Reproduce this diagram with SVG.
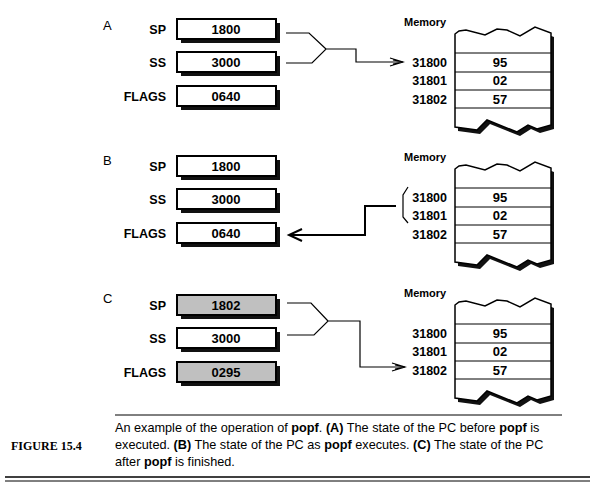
<svg xmlns="http://www.w3.org/2000/svg" width="597" height="495" viewBox="0 0 597 495">
<style>
.lbl{font-family:"Liberation Sans",Arial,sans-serif;font-weight:bold;font-size:12.5px;fill:#000}
.val{font-family:"Liberation Sans",Arial,sans-serif;font-weight:bold;font-size:13px;fill:#000}
.panel{font-family:"Liberation Sans",Arial,sans-serif;font-size:13px;fill:#000}
.mem{font-family:"Liberation Sans",Arial,sans-serif;font-weight:bold;font-size:11px;fill:#000}
.cap{font-family:"Liberation Sans",Arial,sans-serif;font-size:12.7px;fill:#000}
.fig{font-family:"Liberation Serif","Times New Roman",serif;font-weight:bold;font-size:12px;fill:#000}
.box{fill:#fff;stroke:#000;stroke-width:2}
.gbox{fill:#c0c0c0;stroke:#000;stroke-width:2}
.shadow{fill:#111}
.conn{fill:none;stroke:#000;stroke-width:1.2}
.connb{fill:none;stroke:#000;stroke-width:2}
.cell{stroke:#000;stroke-width:1}
</style>
<defs>
<path id="memshape" d="M455,34 L459,31 L466,30 L485,35 L497,29 L507,30 L520,36 L535,27 L551,33 L551,125 L537,129 L528,125 L517,132 L487,120 L477,130 L455,127 Z"/>
<marker id="dblarrow" markerWidth="16" markerHeight="12" refX="14" refY="6" orient="auto" markerUnits="userSpaceOnUse">
<path d="M1,2 L14,6 L1,10 M4,4 L14,6 L4,8" fill="none" stroke="#000" stroke-width="1.2"/>
</marker>
</defs>

<!-- Panel letters -->
<text class="panel" x="103" y="30">A</text>
<text class="panel" x="103" y="165">B</text>
<text class="panel" x="103" y="303">C</text>

<!-- Panel A registers -->
<g id="regA">
  <g id="A-SP">
    <text class="lbl" x="166" y="34" text-anchor="end">SP</text>
    <rect class="shadow" x="181" y="23" width="99" height="20"/>
    <rect class="box" x="177" y="19" width="99" height="20"/>
    <text class="val" x="226" y="34" text-anchor="middle">1800</text>
  </g>
  <g id="A-SS">
    <text class="lbl" x="166" y="67" text-anchor="end">SS</text>
    <rect class="shadow" x="181" y="56" width="99" height="20"/>
    <rect class="box" x="177" y="52" width="99" height="20"/>
    <text class="val" x="226" y="67" text-anchor="middle">3000</text>
  </g>
  <g id="A-FLAGS">
    <text class="lbl" x="166" y="101" text-anchor="end">FLAGS</text>
    <rect class="shadow" x="181" y="90" width="99" height="20"/>
    <rect class="box" x="177" y="86" width="99" height="20"/>
    <text class="val" x="226" y="101" text-anchor="middle">0640</text>
  </g>
</g>

<!-- Panel B registers -->
<g id="regB">
  <g id="B-SP">
    <text class="lbl" x="166" y="171" text-anchor="end">SP</text>
    <rect class="shadow" x="181" y="160" width="99" height="20"/>
    <rect class="box" x="177" y="156" width="99" height="20"/>
    <text class="val" x="226" y="171" text-anchor="middle">1800</text>
  </g>
  <g id="B-SS">
    <text class="lbl" x="166" y="204" text-anchor="end">SS</text>
    <rect class="shadow" x="181" y="193" width="99" height="20"/>
    <rect class="box" x="177" y="189" width="99" height="20"/>
    <text class="val" x="226" y="204" text-anchor="middle">3000</text>
  </g>
  <g id="B-FLAGS">
    <text class="lbl" x="166" y="238" text-anchor="end">FLAGS</text>
    <rect class="shadow" x="181" y="227" width="99" height="20"/>
    <rect class="box" x="177" y="223" width="99" height="20"/>
    <text class="val" x="226" y="238" text-anchor="middle">0640</text>
  </g>
</g>

<!-- Panel C registers -->
<g id="regC">
  <g id="C-SP">
    <text class="lbl" x="166" y="310" text-anchor="end">SP</text>
    <rect class="shadow" x="181" y="299" width="99" height="20"/>
    <rect class="gbox" x="177" y="295" width="99" height="20"/>
    <text class="val" x="226" y="310" text-anchor="middle">1802</text>
  </g>
  <g id="C-SS">
    <text class="lbl" x="166" y="343" text-anchor="end">SS</text>
    <rect class="shadow" x="181" y="332" width="99" height="20"/>
    <rect class="box" x="177" y="328" width="99" height="20"/>
    <text class="val" x="226" y="343" text-anchor="middle">3000</text>
  </g>
  <g id="C-FLAGS">
    <text class="lbl" x="166" y="377" text-anchor="end">FLAGS</text>
    <rect class="shadow" x="181" y="366" width="99" height="20"/>
    <rect class="gbox" x="177" y="362" width="99" height="20"/>
    <text class="val" x="226" y="377" text-anchor="middle">0295</text>
  </g>
</g>

<!-- Memory A -->
<g id="memA">
  <text class="mem" x="404" y="26">Memory</text>
  <use href="#memshape" transform="translate(3,4)" class="shadow"/>
  <use href="#memshape" fill="#fff" stroke="#000" stroke-width="1.5"/>
  <line class="cell" x1="455" y1="53" x2="551" y2="53"/>
  <line class="cell" x1="455" y1="72" x2="551" y2="72"/>
  <line class="cell" x1="455" y1="90" x2="551" y2="90"/>
  <line class="cell" x1="455" y1="108" x2="551" y2="108"/>
  <text class="lbl" x="447" y="67" text-anchor="end">31800</text>
  <text class="lbl" x="447" y="85" text-anchor="end">31801</text>
  <text class="lbl" x="447" y="104" text-anchor="end">31802</text>
  <text class="val" x="500" y="67" text-anchor="middle">95</text>
  <text class="val" x="500" y="85" text-anchor="middle">02</text>
  <text class="val" x="500" y="104" text-anchor="middle">57</text>
</g>

<!-- Memory B -->
<g id="memB" transform="translate(0,135)">
  <text class="mem" x="404" y="26">Memory</text>
  <use href="#memshape" transform="translate(3,4)" class="shadow"/>
  <use href="#memshape" fill="#fff" stroke="#000" stroke-width="1.5"/>
  <line class="cell" x1="455" y1="53" x2="551" y2="53"/>
  <line class="cell" x1="455" y1="72" x2="551" y2="72"/>
  <line class="cell" x1="455" y1="90" x2="551" y2="90"/>
  <line class="cell" x1="455" y1="108" x2="551" y2="108"/>
  <text class="lbl" x="447" y="67" text-anchor="end">31800</text>
  <text class="lbl" x="447" y="85" text-anchor="end">31801</text>
  <text class="lbl" x="447" y="104" text-anchor="end">31802</text>
  <text class="val" x="500" y="67" text-anchor="middle">95</text>
  <text class="val" x="500" y="85" text-anchor="middle">02</text>
  <text class="val" x="500" y="104" text-anchor="middle">57</text>
</g>

<!-- Memory C -->
<g id="memC" transform="translate(0,271)">
  <text class="mem" x="404" y="26">Memory</text>
  <use href="#memshape" transform="translate(3,4)" class="shadow"/>
  <use href="#memshape" fill="#fff" stroke="#000" stroke-width="1.5"/>
  <line class="cell" x1="455" y1="53" x2="551" y2="53"/>
  <line class="cell" x1="455" y1="72" x2="551" y2="72"/>
  <line class="cell" x1="455" y1="90" x2="551" y2="90"/>
  <line class="cell" x1="455" y1="108" x2="551" y2="108"/>
  <text class="lbl" x="447" y="67" text-anchor="end">31800</text>
  <text class="lbl" x="447" y="85" text-anchor="end">31801</text>
  <text class="lbl" x="447" y="104" text-anchor="end">31802</text>
  <text class="val" x="500" y="67" text-anchor="middle">95</text>
  <text class="val" x="500" y="85" text-anchor="middle">02</text>
  <text class="val" x="500" y="104" text-anchor="middle">57</text>
</g>

<!-- Connectors -->
<g id="connectors">
  <path class="conn" d="M286,33 L309,33 L326,49 M286,63 L312,63 L326,49 L356,49 L356,62 L403,62" marker-end="url(#dblarrow)"/>
  <path class="connb" d="M396,206 L365,206 L365,235 L289,235"/>
  <path class="connb" d="M302,229 L289,235 L302,241"/>
  <path class="conn" d="M408,187 L403,195 L403,217 L408,223"/>
  <path class="conn" d="M287,303 L311,303 L328,321 M287,335 L314,335 L328,321 L360,321 L360,367 L405,367" marker-end="url(#dblarrow)"/>
</g>

<!-- Caption -->
<line x1="115" y1="415" x2="562" y2="415" stroke="#000" stroke-width="1"/>
<text class="fig" x="11" y="450">FIGURE 15.4</text>
<text class="cap" x="115" y="432">An example of the operation of <tspan font-weight="bold">popf</tspan>. <tspan font-weight="bold">(A)</tspan> The state of the PC before <tspan font-weight="bold">popf</tspan> is</text>
<text class="cap" x="115" y="449">executed. <tspan font-weight="bold">(B)</tspan> The state of the PC as <tspan font-weight="bold">popf</tspan> executes. <tspan font-weight="bold">(C)</tspan> The state of the PC</text>
<text class="cap" x="115" y="466">after <tspan font-weight="bold">popf</tspan> is finished.</text>
<line x1="5" y1="477" x2="590" y2="477" stroke="#000" stroke-width="1.5"/>
<line x1="5" y1="481" x2="590" y2="481" stroke="#000" stroke-width="1"/>
</svg>
